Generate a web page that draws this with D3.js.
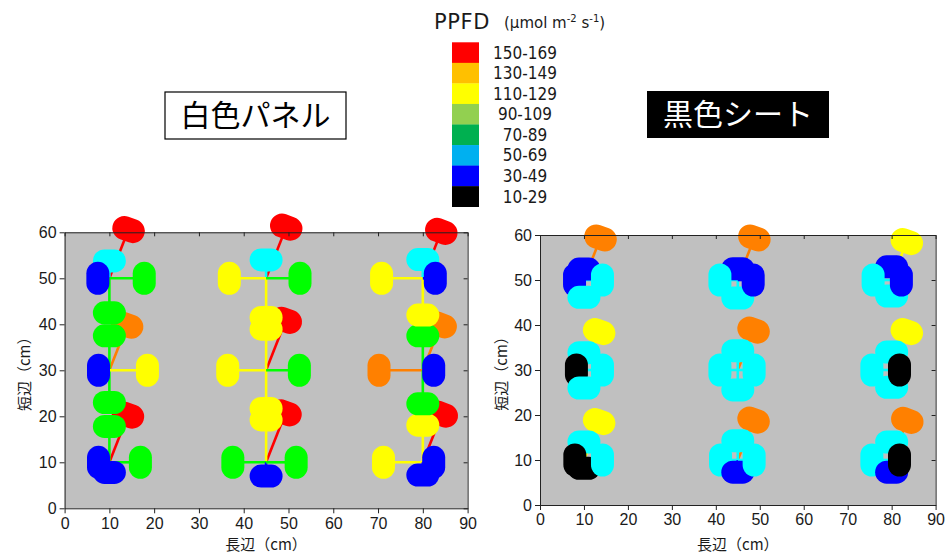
<!DOCTYPE html>
<html>
<head>
<meta charset="utf-8">
<script src="https://cdn.jsdelivr.net/npm/d3@7"></script>
<style>
  body { margin: 0; background: #fff; }
  svg { display: block; }
</style>
</head>
<body>
<div id="chart"></div>
<script>
// legend bins, top to bottom
const binLabels = ['150-169', '130-149', '110-129', '90-109', '70-89', '50-69', '30-49', '10-29']
const binColors = ['#ff0000', '#ffc000', '#ffff00', '#92d050', '#00b050', '#00b0f0', '#0000ff', '#000000']
// colours of the sensor marks, low bin to high bin
const binEdges = [30, 50, 70, 90, 110, 130, 150]
const markColors = ['#000000', '#0000ff', '#00ffff', '#00b050', '#00ff00', '#ffff00', '#ff8000', '#ff0000']

const longTicks = [0, 10, 20, 30, 40, 50, 60, 70, 80, 90]
const shortTicks = [0, 10, 20, 30, 40, 50, 60]
const siteX = [10, 45, 80]
const siteY = [50, 30, 10]

// PPFD (umol m-2 s-1) on each face of the sensor, rows = siteY, cols = siteX
const whiteFront = [[53, 56, 57], [105, 125, 105], [109, 129, 113]]
const whiteLeft = [[36, 115, 129], [34, 120, 137], [34, 104, 123]]
const whiteBack = [[105, 119, 112], [98, 116, 102], [31, 42, 39]]
const whiteRight = [[109, 106, 39], [119, 104, 34], [97, 94, 34]]
const whiteTop = [[160, 168, 154], [148, 164, 149], [155, 162, 158]]

const blackFront = [[34, 35, 41], [54, 60, 56], [56, 60, 56]]
const blackLeft = [[30, 57, 59], [24, 57, 63], [29, 55, 63]]
const blackBack = [[54, 56, 50], [56, 62, 54], [26, 38, 38]]
const blackRight = [[59, 49, 31], [59, 52, 25], [59, 52, 25]]
const blackTop = [[141, 141, 129], [129, 134, 129], [129, 134, 133]]

const width = 945
const height = 554

const color = d3.scaleThreshold().domain(binEdges).range(markColors)
// arm length in cm for a PPFD value
const reach = d3.scaleLinear().domain([0, 140]).range([0, 10])

const tilt = 68 * Math.PI / 180
const faceDefs = [
  { key: 'top', dx: Math.cos(tilt), dy: Math.sin(tilt), w: 33, h: 24, rot: 20 },
  { key: 'front', dx: 0, dy: 1, w: 33, h: 23, rot: 0 },
  { key: 'left', dx: -1, dy: 0, w: 23, h: 33, rot: 0 },
  { key: 'back', dx: 0, dy: -1, w: 33, h: 23, rot: 0 },
  { key: 'right', dx: 1, dy: 0, w: 23, h: 33, rot: 0 }
]

const panels = [
  {
    title: '白色パネル', dark: false,
    box: { x: 165, y: 92, w: 181, h: 47 },
    x0: 64.6, x1: 467.6, y0: 508.3, y1: 232.3, ylabX: 25,
    faces: { front: whiteFront, left: whiteLeft, back: whiteBack, right: whiteRight, top: whiteTop }
  },
  {
    title: '黒色シート', dark: true,
    box: { x: 647, y: 91, w: 182, h: 47 },
    x0: 540, x1: 935.6, y0: 505, y1: 235, ylabX: 502,
    faces: { front: blackFront, left: blackLeft, back: blackBack, right: blackRight, top: blackTop }
  }
]

const svg = d3.select('#chart')
  .append('svg')
  .attr('width', width)
  .attr('height', height)
  .attr('viewBox', [0, 0, width, height])

const tickFont = '"Liberation Sans", Arial, sans-serif'
const jpFont = '"Noto Sans CJK JP", sans-serif'

panels.forEach(p => {
  const x = d3.scaleLinear().domain([0, 90]).range([p.x0, p.x1])
  const y = d3.scaleLinear().domain([0, 60]).range([p.y0, p.y1])

  const g = svg.append('g')

  g.append('rect')
    .attr('x', p.x0).attr('y', p.y1)
    .attr('width', p.x1 - p.x0).attr('height', p.y0 - p.y1)
    .attr('fill', '#c0c0c0')

  // build marks from the face values
  const marks = []
  faceDefs.forEach(f => {
    p.faces[f.key].forEach((row, i) => {
      row.forEach((v, j) => {
        const r = reach(v)
        marks.push({
          face: f, value: v,
          sx: siteX[j], sy: siteY[i],
          mx: siteX[j] + f.dx * r, my: siteY[i] + f.dy * r
        })
      })
    })
  })

  g.append('g').selectAll('line')
    .data(marks)
    .join('line')
    .attr('x1', d => x(d.sx)).attr('y1', d => y(d.sy))
    .attr('x2', d => x(d.mx)).attr('y2', d => y(d.my))
    .attr('stroke', d => color(d.value))
    .attr('stroke-width', 2.6)

  g.append('g').selectAll('rect')
    .data(marks)
    .join('rect')
    .attr('x', d => -d.face.w / 2).attr('y', d => -d.face.h / 2)
    .attr('width', d => d.face.w).attr('height', d => d.face.h)
    .attr('rx', d => Math.min(d.face.w, d.face.h) / 2)
    .attr('transform', d => `translate(${x(d.mx)},${y(d.my)}) rotate(${d.face.rot})`)
    .attr('fill', d => color(d.value))

  // axes
  const axL = g.append('g').attr('transform', `translate(${p.x0},0)`)
    .call(d3.axisLeft(y).tickValues(shortTicks).tickSize(5).tickPadding(3).tickSizeOuter(0))
  const axB = g.append('g').attr('transform', `translate(0,${p.y0})`)
    .call(d3.axisBottom(x).tickValues(longTicks).tickSize(5).tickPadding(4).tickSizeOuter(0))
  g.append('g').attr('transform', `translate(${p.x1},0)`)
    .call(d3.axisRight(y).tickValues(shortTicks).tickSize(-4).tickFormat('').tickSizeOuter(0))
  g.append('g').attr('transform', `translate(0,${p.y1})`)
    .call(d3.axisTop(x).tickValues(longTicks).tickSize(-4).tickFormat('').tickSizeOuter(0))

  g.selectAll('.domain, .tick line').attr('stroke', '#222')
  ;[axL, axB].forEach(a => a.selectAll('text')
    .attr('font-family', tickFont).attr('font-size', 16).attr('fill', '#1a1a1a'))

  g.append('text')
    .attr('transform', `translate(${p.ylabX},${(p.y0 + p.y1) / 2}) rotate(-90)`)
    .attr('text-anchor', 'middle').attr('dy', '0.35em')
    .attr('font-family', jpFont).attr('font-size', 15).attr('fill', '#1a1a1a')
    .text('短辺（cm）')

  g.append('text')
    .attr('x', (p.x0 + p.x1) / 2).attr('y', 545)
    .attr('text-anchor', 'middle').attr('dy', '0.35em')
    .attr('font-family', jpFont).attr('font-size', 15).attr('fill', '#1a1a1a')
    .text('長辺（cm）')

  // title box
  g.append('rect')
    .attr('x', p.box.x).attr('y', p.box.y)
    .attr('width', p.box.w).attr('height', p.box.h)
    .attr('fill', p.dark ? '#000' : '#fff')
    .attr('stroke', p.dark ? 'none' : '#000')
    .attr('stroke-width', 1.2)
  g.append('text')
    .attr('x', p.box.x + p.box.w / 2).attr('y', p.box.y + p.box.h / 2)
    .attr('text-anchor', 'middle').attr('dy', '0.36em')
    .attr('font-family', jpFont).attr('font-size', 30)
    .attr('fill', p.dark ? '#fff' : '#000')
    .text(p.title)
})

// legend
const legend = svg.append('g')
const legendY = d3.scaleBand().domain(binLabels).range([42.3, 206.7])

legend.selectAll('rect')
  .data(binLabels)
  .join('rect')
  .attr('x', 452).attr('y', d => legendY(d))
  .attr('width', 27).attr('height', legendY.bandwidth() + 0.3)
  .attr('fill', (d, i) => binColors[i])

legend.selectAll('text.bin')
  .data(binLabels)
  .join('text')
  .attr('class', 'bin')
  .attr('x', 525).attr('y', d => legendY(d) + legendY.bandwidth() / 2)
  .attr('dy', '0.36em').attr('text-anchor', 'middle')
  .attr('font-family', '"DejaVu Sans Condensed", "DejaVu Sans", sans-serif')
  .attr('font-stretch', 'condensed')
  .attr('font-size', 17).attr('fill', '#1a1a1a')
  .text(d => d)

legend.append('text')
  .attr('x', 434).attr('y', 28.5)
  .attr('font-family', '"DejaVu Sans", sans-serif')
  .attr('font-size', 21).attr('letter-spacing', 0.6).attr('fill', '#1a1a1a')
  .text('PPFD')

const unit = legend.append('text')
  .attr('x', 504).attr('y', 28.3)
  .attr('font-family', '"DejaVu Sans", sans-serif')
  .attr('font-size', 15).attr('fill', '#1a1a1a')
unit.append('tspan').text('(µmol m')
unit.append('tspan').attr('font-size', 10).attr('dy', -6).text('-2')
unit.append('tspan').attr('dy', 6).text(' s')
unit.append('tspan').attr('font-size', 10).attr('dy', -6).text('-1')
unit.append('tspan').attr('dy', 6).text(')')
</script>
</body>
</html>
